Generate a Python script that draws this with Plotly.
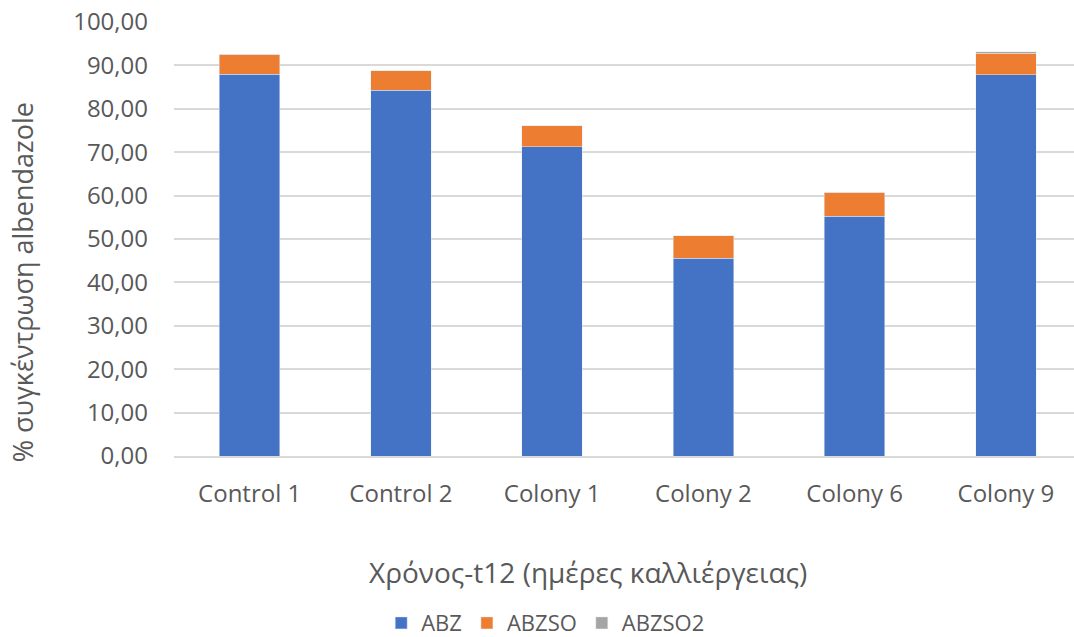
import plotly.graph_objects as go

categories = ["Control 1", "Control 2", "Colony 1", "Colony 2", "Colony 6", "Colony 9"]
abz = [88.0, 84.3, 71.3, 45.6, 55.2, 87.9]
abzso = [4.6, 4.5, 4.8, 5.2, 5.6, 4.9]
abzso2 = [0.0, 0.0, 0.0, 0.0, 0.0, 0.3]
y_ticks = [0, 10, 20, 30, 40, 50, 60, 70, 80, 90, 100]
y_tick_labels = ["0,00", "10,00", "20,00", "30,00", "40,00", "50,00", "60,00", "70,00", "80,00", "90,00", "100,00"]

FONT = "Open Sans"
TXT = "#595959"

fig = go.Figure()
fig.add_bar(name="ABZ", x=categories, y=abz, marker_color="#4472C4", width=0.4)
fig.add_bar(name="ABZSO", x=categories, y=abzso, marker_color="#ED7D31", width=0.4)
fig.add_bar(name="ABZSO2", x=categories, y=abzso2, marker_color="#A5A5A5", width=0.4)

fig.update_layout(
    barmode="stack",
    width=1074, height=637,
    margin=dict(l=174, r=0, t=22, b=181, autoexpand=False),
    plot_bgcolor="white", paper_bgcolor="white",
    font=dict(family=FONT, color=TXT, size=23),
    showlegend=True,
    legend=dict(orientation="h", x=0.413, y=-0.385, xanchor="center", yanchor="middle",
                font=dict(size=22, color=TXT), itemwidth=30, traceorder="normal"),
    annotations=[
        dict(text="% συγκέντρωση albendazole", xref="paper", yref="paper", x=-0.169, y=0.40,
             textangle=-90, showarrow=False, font=dict(size=27, color=TXT), xanchor="center", yanchor="middle"),
        dict(text="Χρόνος-t12 (ημέρες καλλιέργειας)", xref="paper", yref="paper", x=0.46, y=-0.267,
             showarrow=False, font=dict(size=28, color=TXT), xanchor="center", yanchor="middle"),
    ],
)
fig.update_xaxes(range=[-0.5, 5.45], showgrid=False, showline=True, linecolor="#d9d9d9", linewidth=1.5,
                 ticks="", ticklabelstandoff=15, tickfont=dict(size=24, color=TXT), automargin=False)
fig.update_yaxes(range=[0, 100], tickvals=y_ticks, ticktext=y_tick_labels, showgrid=True,
                 gridcolor="#d9d9d9", gridwidth=1.5, zeroline=False, showline=False, ticks="",
                 ticklabelstandoff=25, tickfont=dict(size=24, color=TXT), automargin=False)

fig.write_html("out.html", config={"displayModeBar": False})

with open("out.html", "r", encoding="utf-8") as f:
    html = f.read()
html = html.replace("<body>", '<body style="margin:0;padding:0;overflow:hidden">', 1)
with open("out.html", "w", encoding="utf-8") as f:
    f.write(html)
